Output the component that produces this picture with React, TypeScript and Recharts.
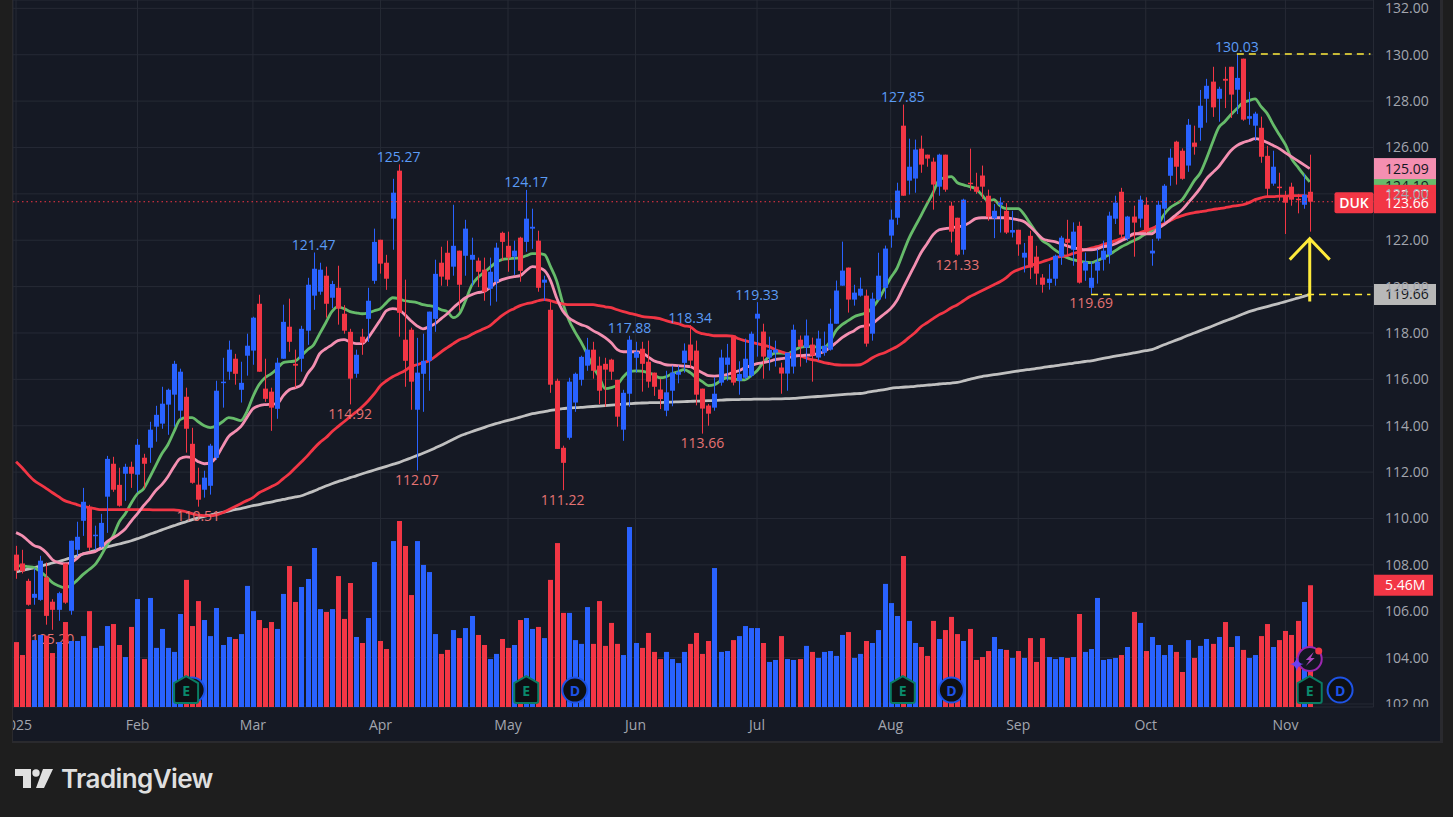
import { Bar, CartesianGrid, ComposedChart, Line, ReferenceDot, ReferenceLine, XAxis, YAxis } from "recharts";

const opens = [
  108.44, 108.06, 107.31, 106.58, 106.49, 107.46, 106.41, 106.06, 108.06, 106.02,
  108.65, 109.90, 110.50, 109.27, 108.78, 110.94, 112.36, 111.45, 111.93, 112.23,
  111.89, 112.62, 113.05, 113.96, 114.09, 114.91, 115.34, 114.65, 115.25, 113.22,
  111.46, 111.24, 111.41, 112.62, 115.85, 116.33, 116.89, 115.55, 117.02, 117.24,
  119.26, 115.60, 115.47, 114.73, 116.89, 118.27, 116.67, 116.89, 118.10, 119.61,
  119.78, 120.47, 119.52, 119.95, 118.83, 118.05, 116.24, 117.84, 118.61, 120.25,
  122.02, 121.03, 122.93, 125.00, 117.71, 118.14, 114.69, 116.24, 116.80, 118.61,
  121.03, 121.46, 120.86, 121.55, 121.33, 121.16, 121.12, 120.73, 119.91, 120.21,
  122.32, 121.76, 121.29, 122.11, 121.93, 122.50, 121.98, 120.17, 119.00, 115.94,
  113.05, 113.48, 115.00, 115.98, 116.59, 117.28, 116.59, 116.67, 116.85, 115.98,
  113.83, 115.38, 116.93, 117.32, 116.76, 116.29, 115.56, 114.65, 115.51, 116.20,
  116.71, 117.50, 117.24, 115.60, 114.87, 114.78, 115.86, 116.63, 117.89, 115.94,
  116.07, 116.16, 118.62, 118.06, 116.94, 117.15, 116.51, 116.25, 116.55, 117.71,
  117.37, 117.50, 116.94, 117.15, 117.28, 118.40, 120.04, 120.82, 119.44, 119.61,
  119.61, 117.97, 119.44, 119.95, 122.20, 122.97, 126.94, 124.57, 124.66, 125.95,
  125.69, 125.39, 124.31, 125.69, 123.49, 122.97, 121.59, 124.48, 124.31, 124.79,
  123.92, 122.94, 123.53, 123.27, 122.33, 122.45, 121.25, 122.19, 121.29, 120.39,
  120.16, 120.34, 121.29, 122.06, 121.59, 122.62, 120.69, 119.95, 120.69, 121.16,
  121.38, 122.93, 124.09, 122.07, 123.02, 122.93, 123.53, 121.43, 122.07, 123.36,
  124.78, 126.25, 125.86, 125.22, 126.21, 126.85, 128.10, 128.84, 128.10, 128.96,
  129.48, 128.49, 129.83, 127.24, 126.94, 126.85, 125.64, 124.44, 124.31, 123.88,
  124.31, 123.79, 123.53, 124.09,
];

const closes = [
  107.75, 107.72, 106.28, 106.75, 108.18, 105.80, 106.06, 106.78, 106.37, 109.04,
  109.21, 110.72, 108.74, 109.30, 109.81, 112.57, 111.24, 110.55, 112.23, 111.93,
  113.18, 112.36, 113.83, 114.47, 114.95, 115.55, 116.67, 116.33, 113.87, 111.54,
  110.81, 111.76, 113.14, 115.51, 115.90, 117.28, 116.24, 115.85, 117.45, 118.66,
  116.33, 115.16, 114.78, 116.72, 118.48, 117.62, 116.59, 118.18, 120.08, 120.77,
  120.73, 119.26, 120.11, 119.05, 118.10, 116.03, 117.06, 117.58, 119.39, 121.93,
  120.99, 120.34, 124.05, 118.87, 116.80, 115.90, 116.29, 116.80, 118.92, 120.55,
  120.43, 120.30, 121.76, 120.08, 122.50, 121.37, 120.64, 119.78, 120.64, 121.68,
  121.93, 121.25, 121.55, 120.68, 122.93, 122.58, 119.95, 120.30, 115.77, 113.00,
  112.40, 115.90, 116.24, 116.97, 117.28, 116.37, 115.51, 116.42, 116.33, 114.39,
  115.42, 117.71, 117.19, 116.67, 115.90, 115.68, 115.15, 115.44, 116.29, 116.33,
  117.24, 116.81, 115.34, 114.74, 114.52, 115.38, 116.94, 116.94, 115.86, 116.23,
  116.89, 117.97, 118.83, 116.98, 117.28, 117.28, 116.25, 117.15, 118.14, 117.41,
  117.89, 117.02, 117.76, 117.45, 118.40, 119.83, 120.69, 119.44, 119.74, 119.91,
  117.54, 119.48, 120.47, 121.64, 122.89, 124.14, 123.92, 125.17, 125.91, 125.26,
  125.52, 124.40, 125.69, 124.18, 122.37, 121.38, 123.75, 124.44, 124.09, 124.31,
  123.02, 123.27, 123.63, 122.33, 122.44, 121.82, 121.46, 120.82, 120.56, 120.08,
  120.34, 121.33, 122.11, 121.89, 122.37, 120.17, 121.07, 120.38, 121.07, 121.55,
  123.06, 123.62, 122.24, 123.02, 122.76, 123.75, 122.37, 121.55, 123.53, 124.35,
  125.56, 125.17, 124.65, 126.98, 126.03, 127.80, 128.66, 127.73, 128.53, 128.88,
  128.28, 129.00, 127.20, 127.35, 127.46, 125.60, 124.22, 125.17, 124.27, 123.62,
  123.75, 123.75, 123.96, 123.66,
];

const highs = [
  108.82, 108.65, 107.40, 107.85, 108.39, 108.10, 106.52, 106.84, 108.06, 109.04,
  109.86, 111.32, 110.59, 109.69, 110.20, 112.70, 112.66, 112.19, 112.36, 112.45,
  113.43, 112.79, 114.17, 114.86, 115.68, 115.60, 116.80, 116.46, 115.64, 113.91,
  112.19, 112.06, 113.22, 115.94, 116.93, 117.67, 117.10, 116.76, 117.97, 118.70,
  119.65, 116.89, 115.64, 116.93, 119.22, 119.48, 117.28, 118.31, 120.38, 121.47,
  121.03, 120.86, 120.25, 120.90, 119.20, 118.18, 117.28, 118.18, 119.95, 122.50,
  122.02, 121.37, 124.65, 125.27, 120.30, 118.23, 117.79, 117.97, 118.92, 121.16,
  121.72, 121.98, 123.53, 121.55, 122.88, 122.11, 121.25, 121.25, 121.25, 121.89,
  122.37, 122.37, 121.98, 122.15, 124.17, 123.36, 122.41, 120.47, 119.43, 116.03,
  113.14, 116.07, 116.29, 117.02, 117.79, 117.62, 116.98, 116.93, 116.89, 115.98,
  115.55, 117.88, 117.62, 117.62, 117.67, 116.29, 116.02, 116.37, 116.59, 116.59,
  117.55, 118.34, 117.67, 115.60, 114.94, 116.09, 117.28, 117.53, 117.89, 116.78,
  117.76, 118.06, 119.33, 118.40, 117.84, 117.67, 116.72, 117.15, 118.36, 117.89,
  118.58, 117.80, 118.10, 118.06, 119.05, 120.26, 121.94, 120.82, 120.08, 120.39,
  119.87, 119.74, 121.46, 121.77, 123.32, 124.48, 127.85, 126.38, 126.34, 126.51,
  125.69, 125.56, 125.73, 125.69, 123.66, 122.97, 123.79, 125.95, 124.91, 125.22,
  124.18, 123.56, 123.85, 123.60, 123.27, 122.45, 121.88, 122.41, 121.76, 120.54,
  120.97, 121.38, 122.19, 122.88, 122.77, 122.80, 121.47, 121.07, 121.62, 121.98,
  123.23, 123.92, 124.26, 123.05, 123.49, 123.92, 123.85, 122.05, 123.70, 124.42,
  125.95, 126.29, 125.96, 127.23, 126.94, 128.48, 128.96, 129.48, 128.62, 129.48,
  129.48, 130.03, 129.83, 128.40, 127.54, 127.33, 126.07, 125.86, 124.91, 124.13,
  124.48, 124.00, 124.85, 125.69,
];

const lows = [
  107.40, 107.63, 106.24, 106.28, 106.45, 105.42, 105.20, 105.59, 106.32, 105.85,
  108.39, 109.25, 108.61, 108.65, 108.74, 109.38, 111.15, 110.51, 110.76, 111.32,
  111.13, 111.30, 112.40, 113.31, 113.87, 113.61, 113.96, 114.30, 112.84, 111.50,
  110.51, 110.90, 111.03, 112.53, 114.78, 115.98, 115.77, 115.00, 116.16, 116.63,
  116.33, 115.03, 113.78, 114.30, 116.89, 117.19, 115.64, 116.33, 117.49, 119.00,
  119.65, 118.66, 119.07, 118.36, 117.97, 114.92, 116.07, 117.06, 117.61, 120.12,
  120.56, 119.86, 121.59, 117.84, 115.68, 114.69, 112.07, 114.60, 115.51, 118.05,
  120.04, 120.02, 120.47, 118.96, 120.47, 120.04, 119.98, 119.39, 119.18, 119.35,
  121.12, 120.64, 120.51, 120.21, 121.50, 121.63, 119.78, 119.39, 115.42, 113.00,
  111.22, 113.40, 114.60, 115.73, 116.37, 116.03, 114.93, 114.82, 115.98, 113.96,
  113.35, 114.82, 116.29, 115.47, 115.64, 115.29, 114.72, 114.41, 114.84, 115.83,
  116.29, 116.52, 114.88, 113.66, 114.00, 114.65, 115.73, 115.94, 115.74, 115.34,
  116.00, 116.09, 116.98, 116.03, 116.38, 116.55, 115.38, 115.51, 116.25, 116.55,
  116.72, 115.90, 116.81, 117.02, 117.24, 118.40, 120.04, 118.88, 119.18, 119.57,
  117.41, 117.67, 119.40, 119.48, 121.68, 122.67, 123.92, 123.97, 124.05, 124.91,
  125.17, 123.32, 123.92, 124.09, 121.90, 121.33, 121.38, 124.14, 124.00, 123.79,
  122.84, 122.09, 122.33, 122.27, 122.12, 121.33, 120.61, 120.33, 120.08, 119.74,
  119.87, 120.04, 120.94, 121.33, 120.90, 120.13, 120.25, 119.69, 120.13, 120.69,
  120.99, 122.70, 122.05, 121.98, 121.29, 122.55, 122.31, 120.90, 121.98, 122.77,
  124.35, 124.40, 124.61, 124.95, 125.69, 126.29, 127.07, 127.32, 127.11, 127.70,
  127.27, 127.44, 127.15, 126.98, 126.29, 125.34, 123.85, 124.35, 123.70, 122.27,
  123.49, 123.16, 123.36, 122.37,
];

// volume in millions
const volumes = [
  2.91, 2.33, 4.39, 3.00, 3.23, 3.20, 2.42, 2.91, 3.81, 2.96,
  2.96, 3.18, 4.30, 2.65, 2.74, 3.63, 3.72, 2.78, 2.24, 3.59,
  4.84, 2.15, 4.89, 2.65, 3.50, 2.65, 2.47, 4.17, 5.70, 3.63,
  4.75, 3.90, 3.18, 4.44, 2.78, 3.14, 3.05, 3.27, 5.43, 4.30,
  3.90, 3.54, 3.81, 3.50, 5.07, 6.32, 4.71, 5.38, 5.74, 7.13,
  4.39, 4.26, 4.39, 5.87, 3.95, 5.56, 3.14, 2.87, 3.99, 6.50,
  2.96, 2.60, 7.44, 8.34, 7.22, 5.02, 7.44, 6.37, 6.05, 3.27,
  2.38, 2.56, 3.45, 3.09, 3.54, 4.08, 3.23, 2.78, 2.15, 2.38,
  3.05, 2.65, 2.78, 3.90, 3.99, 3.50, 3.59, 3.09, 5.70, 7.35,
  4.22, 4.22, 3.00, 2.83, 4.48, 2.83, 4.75, 2.74, 3.77, 2.83,
  2.33, 8.07, 2.87, 2.65, 3.32, 2.47, 2.15, 2.47, 2.15, 1.97,
  2.47, 2.83, 3.32, 2.38, 2.96, 6.23, 2.47, 2.51, 3.00, 3.18,
  3.63, 3.54, 3.54, 2.87, 2.02, 2.11, 3.18, 2.15, 2.11, 2.15,
  2.74, 2.47, 2.20, 2.47, 2.51, 2.29, 3.23, 3.36, 2.20, 2.38,
  2.96, 2.87, 3.45, 5.52, 4.66, 4.08, 6.77, 3.86, 2.87, 2.69,
  2.29, 3.86, 3.05, 3.45, 4.04, 3.27, 2.96, 3.50, 2.11, 2.24,
  2.51, 3.14, 2.60, 2.56, 2.20, 2.51, 2.20, 3.09, 2.02, 3.09,
  2.24, 2.15, 2.24, 2.20, 2.24, 4.17, 2.47, 2.60, 4.89, 2.11,
  2.15, 2.20, 2.33, 2.69, 4.26, 3.77, 2.51, 3.14, 2.78, 2.33,
  2.78, 2.47, 1.57, 3.00, 2.20, 2.74, 3.05, 2.83, 3.14, 3.81,
  2.69, 3.18, 2.56, 2.20, 2.33, 3.18, 3.72, 2.69, 3.00, 3.41,
  3.23, 3.86, 4.71, 5.46,
];

const greenLine = [
  107.96, 107.96, 107.92, 107.88, 107.71, 107.49, 107.23, 107.10, 107.02, 107.10,
  107.32, 107.58, 107.79, 108.01, 108.40, 108.87, 109.26, 109.86, 110.21, 110.68,
  111.07, 111.28, 111.76, 112.28, 112.79, 113.18, 113.74, 114.26, 114.35, 114.35,
  114.17, 114.00, 113.92, 114.00, 114.17, 114.35, 114.30, 114.22, 114.60, 115.25,
  115.77, 116.07, 116.24, 116.46, 116.72, 116.76, 116.80, 117.02, 117.28, 117.49,
  117.97, 118.44, 118.92, 119.13, 119.05, 118.92, 118.87, 118.83, 118.87, 118.96,
  119.05, 119.31, 119.52, 119.48, 119.39, 119.35, 119.31, 119.22, 119.18, 119.13,
  119.00, 118.92, 118.66, 118.83, 119.39, 120.04, 120.38, 120.60, 120.82, 121.03,
  121.16, 121.20, 121.22, 121.24, 121.33, 121.42, 121.42, 121.38, 120.86, 120.26,
  119.31, 118.57, 118.06, 117.62, 117.11, 116.55, 116.11, 115.60, 115.64, 115.77,
  116.11, 116.33, 116.37, 116.35, 116.29, 116.20, 116.07, 116.11, 116.24, 116.33,
  116.42, 116.29, 116.07, 115.90, 115.73, 115.77, 115.94, 116.07, 116.03, 115.98,
  115.98, 116.16, 116.37, 116.72, 116.98, 117.13, 117.13, 117.11, 117.24, 117.37,
  117.41, 117.41, 117.39, 117.37, 117.62, 118.10, 118.36, 118.53, 118.70, 118.79,
  118.87, 119.09, 119.44, 119.91, 120.38, 120.77, 121.42, 122.07, 122.58, 123.06,
  123.57, 124.05, 124.61, 124.70, 124.74, 124.48, 124.39, 124.31, 124.22, 123.96,
  123.70, 123.75, 123.49, 123.36, 123.36, 123.36, 123.10, 122.71, 122.32, 121.98,
  121.81, 121.59, 121.42, 121.25, 121.16, 121.10, 121.05, 121.03, 121.12, 121.25,
  121.38, 121.55, 121.72, 121.85, 121.98, 122.11, 122.28, 122.41, 122.67, 123.10,
  123.40, 123.57, 123.75, 124.14, 124.57, 124.91, 125.52, 126.21, 126.85, 127.11,
  127.41, 127.67, 127.93, 128.02, 128.10, 127.76, 127.46, 126.98, 126.55, 126.12,
  125.52, 125.17, 124.83, 124.52,
];

const pinkLine = [
  109.39, 109.26, 109.04, 108.83, 108.74, 108.52, 108.22, 108.09, 108.05, 108.09,
  108.27, 108.48, 108.52, 108.57, 108.74, 109.00, 109.17, 109.34, 109.56, 109.90,
  110.21, 110.55, 110.85, 111.20, 111.46, 111.80, 112.23, 112.58, 112.66, 112.62,
  112.45, 112.36, 112.41, 112.66, 113.10, 113.53, 113.74, 113.96, 114.35, 114.73,
  114.86, 114.91, 114.93, 114.95, 115.30, 115.55, 115.64, 115.77, 116.24, 116.59,
  117.11, 117.32, 117.49, 117.67, 117.71, 117.62, 117.54, 117.54, 117.80, 118.18,
  118.57, 118.96, 119.05, 119.00, 118.79, 118.53, 118.31, 118.18, 118.27, 118.40,
  118.62, 118.83, 119.09, 119.31, 119.52, 119.65, 119.74, 119.78, 119.95, 120.17,
  120.30, 120.38, 120.43, 120.47, 120.69, 120.86, 120.82, 120.69, 120.26, 119.52,
  118.96, 118.66, 118.49, 118.36, 118.27, 118.10, 117.97, 117.80, 117.58, 117.28,
  117.19, 117.19, 117.19, 117.15, 116.98, 116.80, 116.72, 116.63, 116.61, 116.59,
  116.57, 116.55, 116.42, 116.29, 116.16, 116.14, 116.16, 116.20, 116.29, 116.37,
  116.50, 116.59, 116.68, 116.72, 116.78, 116.85, 116.89, 116.93, 116.98, 117.02,
  117.04, 117.06, 117.11, 117.19, 117.37, 117.58, 117.80, 117.97, 118.10, 118.27,
  118.31, 118.40, 118.62, 118.83, 119.05, 119.39, 119.91, 120.43, 120.94, 121.46,
  121.85, 122.24, 122.45, 122.50, 122.54, 122.58, 122.63, 122.76, 122.93, 122.97,
  122.97, 122.97, 122.97, 122.97, 122.93, 122.88, 122.80, 122.58, 122.32, 122.07,
  121.98, 121.94, 121.85, 121.76, 121.68, 121.63, 121.59, 121.59, 121.63, 121.72,
  121.76, 121.85, 121.98, 122.11, 122.28, 122.28, 122.28, 122.28, 122.50, 122.67,
  122.88, 123.10, 123.32, 123.62, 123.92, 124.26, 124.65, 124.91, 125.17, 125.52,
  125.86, 126.08, 126.21, 126.29, 126.38, 126.33, 126.21, 126.08, 125.95, 125.77,
  125.60, 125.43, 125.26, 125.09,
];

const redLine = [
  112.45, 112.19, 111.89, 111.63, 111.46, 111.29, 111.11, 110.94, 110.77, 110.68,
  110.60, 110.52, 110.47, 110.42, 110.38, 110.38, 110.38, 110.38, 110.38, 110.38,
  110.38, 110.38, 110.38, 110.37, 110.37, 110.37, 110.37, 110.34, 110.29, 110.21,
  110.14, 110.12, 110.12, 110.16, 110.25, 110.38, 110.51, 110.64, 110.77, 110.90,
  111.11, 111.24, 111.37, 111.50, 111.72, 111.93, 112.19, 112.45, 112.71, 113.01,
  113.27, 113.48, 113.74, 113.96, 114.17, 114.39, 114.60, 114.82, 115.08, 115.38,
  115.73, 115.94, 116.11, 116.24, 116.37, 116.55, 116.63, 116.72, 116.80, 116.98,
  117.19, 117.37, 117.54, 117.71, 117.80, 117.93, 118.06, 118.18, 118.31, 118.53,
  118.75, 118.92, 119.05, 119.18, 119.26, 119.31, 119.39, 119.44, 119.39, 119.31,
  119.26, 119.22, 119.22, 119.22, 119.22, 119.22, 119.18, 119.13, 119.09, 119.00,
  118.92, 118.85, 118.79, 118.72, 118.68, 118.66, 118.62, 118.53, 118.46, 118.40,
  118.31, 118.27, 118.06, 117.97, 117.93, 117.88, 117.88, 117.88, 117.86, 117.75,
  117.67, 117.60, 117.54, 117.47, 117.41, 117.28, 117.19, 117.11, 117.06, 117.02,
  116.93, 116.85, 116.80, 116.72, 116.68, 116.63, 116.61, 116.61, 116.61, 116.63,
  116.76, 116.93, 117.06, 117.15, 117.28, 117.41, 117.58, 117.80, 118.01, 118.27,
  118.44, 118.62, 118.79, 118.92, 119.09, 119.22, 119.39, 119.56, 119.69, 119.82,
  119.95, 120.08, 120.21, 120.38, 120.60, 120.73, 120.82, 120.90, 120.99, 121.07,
  121.16, 121.25, 121.29, 121.33, 121.42, 121.50, 121.59, 121.66, 121.72, 121.81,
  121.89, 121.98, 122.07, 122.15, 122.24, 122.32, 122.41, 122.50, 122.63, 122.71,
  122.84, 122.97, 123.06, 123.14, 123.19, 123.23, 123.27, 123.32, 123.36, 123.40,
  123.45, 123.49, 123.53, 123.62, 123.75, 123.83, 123.88, 123.88, 123.90, 123.90,
  123.92, 123.92, 123.92, 123.87,
];

const grayLine = [
  107.70, 107.76, 107.82, 107.88, 107.95, 108.01, 108.08, 108.14, 108.22, 108.30,
  108.38, 108.46, 108.54, 108.62, 108.70, 108.77, 108.84, 108.90, 108.97, 109.04,
  109.13, 109.22, 109.32, 109.41, 109.51, 109.60, 109.69, 109.78, 109.86, 109.95,
  110.03, 110.09, 110.15, 110.20, 110.26, 110.32, 110.38, 110.43, 110.49, 110.55,
  110.60, 110.66, 110.71, 110.77, 110.82, 110.88, 110.93, 110.98, 111.08, 111.18,
  111.29, 111.40, 111.50, 111.59, 111.67, 111.76, 111.84, 111.93, 112.01, 112.09,
  112.17, 112.25, 112.33, 112.41, 112.51, 112.61, 112.71, 112.81, 112.92, 113.04,
  113.16, 113.29, 113.42, 113.55, 113.65, 113.74, 113.83, 113.92, 114.01, 114.09,
  114.16, 114.23, 114.30, 114.37, 114.45, 114.52, 114.57, 114.61, 114.66, 114.70,
  114.74, 114.76, 114.78, 114.79, 114.81, 114.83, 114.85, 114.87, 114.89, 114.91,
  114.93, 114.95, 114.97, 114.98, 114.99, 115.00, 115.00, 115.01, 115.02, 115.03,
  115.04, 115.05, 115.06, 115.07, 115.08, 115.09, 115.10, 115.12, 115.13, 115.13,
  115.14, 115.14, 115.15, 115.15, 115.15, 115.16, 115.16, 115.17, 115.18, 115.20,
  115.22, 115.24, 115.26, 115.28, 115.30, 115.32, 115.34, 115.36, 115.38, 115.39,
  115.43, 115.48, 115.52, 115.56, 115.61, 115.64, 115.66, 115.68, 115.70, 115.73,
  115.75, 115.77, 115.80, 115.82, 115.84, 115.87, 115.93, 116.00, 116.06, 116.12,
  116.16, 116.20, 116.24, 116.28, 116.32, 116.36, 116.40, 116.43, 116.47, 116.51,
  116.55, 116.58, 116.62, 116.66, 116.69, 116.73, 116.77, 116.80, 116.85, 116.90,
  116.95, 117.00, 117.04, 117.09, 117.14, 117.19, 117.24, 117.28, 117.38, 117.49,
  117.59, 117.69, 117.79, 117.90, 118.00, 118.10, 118.20, 118.30, 118.41, 118.51,
  118.61, 118.71, 118.82, 118.92, 119.00, 119.07, 119.14, 119.21, 119.28, 119.35,
  119.43, 119.50, 119.58, 119.66,
];

const monthStarts = [0, 20, 39, 60, 81, 102, 122, 144, 165, 186, 209];
const monthLabels = ["2025", "Feb", "Mar", "Apr", "May", "Jun", "Jul", "Aug", "Sep", "Oct", "Nov"];
const priceTicks = [102, 104, 106, 108, 110, 112, 114, 116, 118, 120, 122, 124, 126, 128, 130, 132];

const highMarks = [
  [49, 121.47], [63, 125.27], [84, 124.17], [101, 117.88], [111, 118.34],
  [122, 119.33], [146, 127.85], [201, 130.03],
];
const lowMarks = [
  [6, 105.2], [30, 110.51], [55, 114.92], [66, 112.07], [90, 111.22],
  [113, 113.66], [155, 121.33], [177, 119.69],
];
const earningsAt = [28, 84, 146, 213];
const dividendAt = [29, 92, 154, 218];
const futureBars = 10;

const UP = "#2962ff";
const DOWN = "#f23645";
const FONT = "'Open Sans', 'Noto Sans', sans-serif";
const CHART_W = 1427;
const CHART_H = 741;
const PLOT_W = 1360.5;
const PLOT_H = 707;

const rows = Array.from({ length: opens.length + futureBars }, (_, i) =>
  i < opens.length
    ? {
        i,
        o: opens[i],
        c: closes[i],
        h: highs[i],
        l: lows[i],
        range: [lows[i], highs[i]],
        vol: volumes[i],
        green: greenLine[i],
        pink: pinkLine[i],
        red: redLine[i],
        gray: grayLine[i],
      }
    : { i }
);

function Candle(props: any) {
  const { x, y, width, height, payload } = props;
  if (payload.o == null) return null;
  const k = height / (payload.h - payload.l);
  const top = y + (payload.h - Math.max(payload.o, payload.c)) * k;
  const bottom = y + (payload.h - Math.min(payload.o, payload.c)) * k;
  const color = payload.c >= payload.o ? UP : DOWN;
  const left = Math.round(x + width / 2 - 2.5);
  return (
    <g>
      <rect x={left + 2} y={y} width={1} height={height} fill={color} />
      <rect x={left} y={top} width={5} height={Math.max(bottom - top, 1.5)} fill={color} />
    </g>
  );
}

function VolumeBar(props: any) {
  const { x, y, width, height, payload } = props;
  if (payload.o == null) return null;
  const left = Math.round(x + width / 2 - 2.5);
  return <rect x={left} y={y} width={5} height={height} fill={payload.c >= payload.o ? UP : DOWN} />;
}

function PriceTick(props: any) {
  return (
    <g clipPath="url(#plotClip)">
      <text x={PLOT_W + 11.5} y={props.y + 5} fontSize={14} fontFamily={FONT} fill="#a3a6af">
        {props.payload.value.toFixed(2)}
      </text>
    </g>
  );
}

function MonthTick(props: any) {
  const label = monthLabels[monthStarts.indexOf(props.payload.value)];
  return (
    <text x={props.x} y={PLOT_H + 23} textAnchor="middle" fontSize={14} fontFamily={FONT} fill="#a3a6af">
      {label}
    </text>
  );
}

function tagShape(label: string, fill: string, color: string, dy = 0, width = 62) {
  return (p: any) => {
    const y = p.y1 + dy;
    return (
      <g>
        <rect x={PLOT_W + 0.5} y={y - 10.5} width={width} height={21} fill={fill} />
        <text x={PLOT_W + 11.5} y={y + 5} fontSize={14} fontFamily={FONT} fill={color}>
          {label}
        </text>
      </g>
    );
  };
}

function DukTag(p: any) {
  return (
    <g>
      <rect x={PLOT_W - 39} y={p.y1 - 9.5} width={39} height={21} rx={2} fill={DOWN} />
      <text x={PLOT_W - 19.5} y={p.y1 + 6} textAnchor="middle" fontSize={14} fontWeight={600} fontFamily={FONT} fill="#fff">
        DUK
      </text>
    </g>
  );
}

function priceLabel(text: string, fill: string, dy: number) {
  return (p: any) => (
    <text x={p.cx} y={p.cy + dy} textAnchor="middle" fontSize={14} fontFamily={FONT} fill={fill}>
      {text}
    </text>
  );
}

function EarningsIcon(p: any) {
  const { cx, cy } = p;
  return (
    <g>
      <path
        d={`M${cx} ${cy - 14} L${cx + 12} ${cy - 7} V${cy + 11} Q${cx + 12} ${cy + 13} ${cx + 10} ${cy + 13} H${cx - 10} Q${cx - 12} ${cy + 13} ${cx - 12} ${cy + 11} V${cy - 7} Z`}
        fill="#0e1014"
        stroke="#0a7c63"
        strokeWidth={2}
      />
      <text x={cx} y={cy + 5.5} textAnchor="middle" fontSize={14} fontWeight={700} fontFamily={FONT} fill="#0a8a6c">
        E
      </text>
    </g>
  );
}

function DividendIcon(p: any) {
  const { cx, cy } = p;
  return (
    <g>
      <circle cx={cx} cy={cy} r={12.5} fill="#0e1014" stroke="#1e53e5" strokeWidth={2} />
      <text x={cx} y={cy + 5.5} textAnchor="middle" fontSize={14} fontWeight={700} fontFamily={FONT} fill="#1e53e5">
        D
      </text>
    </g>
  );
}

function NewsIcon(p: any) {
  const { cx, cy } = p;
  return (
    <g>
      <circle cx={cx} cy={cy} r={12} fill="#131722" stroke="#9c27b0" strokeWidth={2} />
      <path
        d={`M${cx + 4} ${cy - 7} L${cx - 4} ${cy + 1} H${cx} L${cx - 4} ${cy + 7} L${cx + 5} ${cy - 1} H${cx + 1} Z`}
        fill="#ab47bc"
      />
      <circle cx={cx + 9} cy={cy - 8} r={3.5} fill={DOWN} />
      <path
        d={`M${cx - 13} ${cy - 2} Q${cx - 12} ${cy + 5} ${cx - 6} ${cy + 5} Q${cx - 12} ${cy + 6} ${cx - 13} ${cy + 12} Q${cx - 14} ${cy + 6} ${cx - 20} ${cy + 5} Q${cx - 14} ${cy + 5} ${cx - 13} ${cy - 2} Z`}
        fill="#6c3ff0"
      />
    </g>
  );
}

function ArrowUp(p: any) {
  const { cx, cy } = p;
  return (
    <path
      d={`M${cx} ${cy + 63} V${cy} M${cx - 20} ${cy + 21} L${cx} ${cy} L${cx + 20} ${cy + 21}`}
      fill="none"
      stroke="#ffeb3b"
      strokeWidth={3}
    />
  );
}

export default function App() {
  return (
    <div style={{ position: "absolute", left: 0, top: 0, width: 1453, height: 817, background: "#1e1e1e", overflow: "hidden" }}>
      <div style={{ position: "absolute", left: 12, top: 0, width: 1431, height: 743, background: "#2a2a2e" }} />
      <div style={{ position: "absolute", left: 13, top: 0, width: CHART_W, height: CHART_H, background: "#151924" }}>
        <ComposedChart
          width={CHART_W}
          height={CHART_H}
          data={rows}
          margin={{ top: 0, right: 0, bottom: 0, left: 0 }}
          barCategoryGap={0}
        >
          <defs>
            <clipPath id="plotClip">
              <rect x={0} y={0} width={CHART_W} height={PLOT_H} />
            </clipPath>
          </defs>
          <CartesianGrid stroke="#262a35" strokeWidth={1} />
          <XAxis
            dataKey="i"
            ticks={monthStarts}
            interval={0}
            height={34}
            axisLine={false}
            tickLine={false}
            tick={MonthTick}
          />
          <XAxis xAxisId="v" dataKey="i" hide />
          <YAxis
            orientation="right"
            width={66.5}
            domain={[101.87, 132.36]}
            ticks={priceTicks}
            interval={0}
            allowDataOverflow
            axisLine={false}
            tickLine={false}
            tick={PriceTick}
          />
          <YAxis yAxisId="v" hide domain={[0, 31.7]} allowDataOverflow />

          {lowMarks.slice(0, 1).map(([i, v]) => (
            <ReferenceDot key={v} x={i} y={v} r={0} ifOverflow="visible" shape={priceLabel(v.toFixed(2), "#e57373", 14.5)} zIndex={50} />
          ))}

          <Bar xAxisId="v" yAxisId="v" dataKey="vol" barSize={5} shape={VolumeBar} isAnimationActive={false} zIndex={100} />

          <Line dataKey="gray" stroke="#c0c0c0" strokeWidth={2.8} dot={false} type="monotone" isAnimationActive={false} zIndex={200} />
          <Line dataKey="green" stroke="#66bb6a" strokeWidth={2.8} dot={false} type="monotone" isAnimationActive={false} zIndex={200} />
          <Line dataKey="red" stroke={DOWN} strokeWidth={2.8} dot={false} type="monotone" isAnimationActive={false} zIndex={200} />
          <Line dataKey="pink" stroke="#f48fb1" strokeWidth={2.8} dot={false} type="monotone" isAnimationActive={false} zIndex={200} />

          <Bar dataKey="range" barSize={5} shape={Candle} isAnimationActive={false} zIndex={300} />

          <ReferenceLine y={123.66} stroke={DOWN} strokeDasharray="1.5 3" zIndex={310} />
          <ReferenceLine
            segment={[{ x: 201, y: 130.03 }, { x: 223, y: 130.03 }]}
            stroke="#ffeb3b"
            strokeWidth={1.5}
            strokeDasharray="7 5"
            zIndex={310}
          />
          <ReferenceLine
            segment={[{ x: 177, y: 119.66 }, { x: 223, y: 119.66 }]}
            stroke="#ffeb3b"
            strokeWidth={1.5}
            strokeDasharray="7 5"
            zIndex={310}
          />
          <ReferenceDot x={213} y={122.07} r={0} shape={ArrowUp} zIndex={320} />

          {highMarks.map(([i, v]) => (
            <ReferenceDot key={v} x={i} y={v} r={0} shape={priceLabel(v.toFixed(2), "#5b9cf6", -2.5)} zIndex={330} />
          ))}
          {lowMarks.slice(1).map(([i, v]) => (
            <ReferenceDot key={v} x={i} y={v} r={0} shape={priceLabel(v.toFixed(2), "#e57373", 14.5)} zIndex={330} />
          ))}

          {dividendAt.map((i) => (
            <ReferenceDot key={i} x={i} yAxisId="v" y={0.76} r={0} shape={DividendIcon} zIndex={340} />
          ))}
          {earningsAt.map((i) => (
            <ReferenceDot key={i} x={i} yAxisId="v" y={0.76} r={0} shape={EarningsIcon} zIndex={342} />
          ))}
          <ReferenceDot x={213} yAxisId="v" y={2.15} r={0} shape={NewsIcon} zIndex={345} />

          <ReferenceLine y={124.19} stroke="none" shape={tagShape("124.19", "#66bb6a", "#131722", -3)} zIndex={700} />
          <ReferenceLine y={123.87} stroke="none" shape={tagShape("123.87", DOWN, "#fff", -1.5)} zIndex={701} />
          <ReferenceLine y={125.09} stroke="none" shape={tagShape("125.09", "#f48fb1", "#131722")} zIndex={702} />
          <ReferenceLine y={119.66} stroke="none" shape={tagShape("119.66", "#b8b8b8", "#131722")} zIndex={703} />
          <ReferenceLine y={123.66} stroke="none" shape={tagShape("123.66", DOWN, "#fff", 1)} zIndex={704} />
          <ReferenceLine y={123.66} stroke="none" shape={DukTag} zIndex={705} />
          <ReferenceLine yAxisId="v" y={5.46} stroke="none" shape={tagShape("5.46M", DOWN, "#fff", 0, 59)} zIndex={706} />
        </ComposedChart>
      </div>
      <svg style={{ position: "absolute", left: 15, top: 769 }} width={38} height={19} viewBox="0 0 38 19">
        <path d="M0 0H16V19H8V7H0Z M28 0H38L29 19H21Z" fill="#e0e0e0" />
        <circle cx="21" cy="4" r="3.7" fill="#e0e0e0" />
      </svg>
      <div style={{ position: "absolute", left: 61, top: 763, fontFamily: "Inter, sans-serif", fontWeight: 600, fontSize: 26, letterSpacing: -0.6, color: "#dfdfdf" }}>
        TradingView
      </div>
    </div>
  );
}
